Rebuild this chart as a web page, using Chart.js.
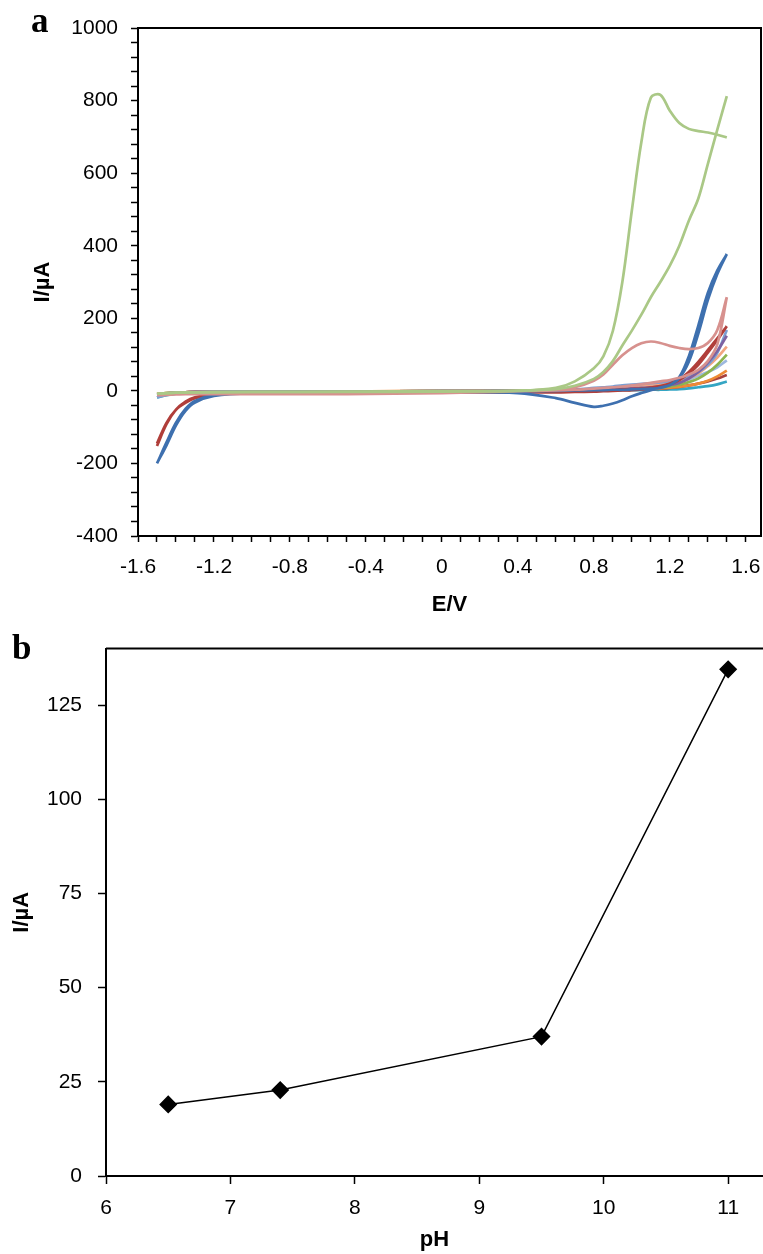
<!DOCTYPE html>
<html>
<head>
<meta charset="utf-8">
<script src="https://cdn.jsdelivr.net/npm/chart.js@4/dist/chart.umd.min.js"></script>
<style>
  body { margin: 0; background: #fff; }
  .panel { position: absolute; left: 0; }
</style>
</head>
<body>
<div class="panel" style="top:0"><canvas id="cvChart" width="763" height="620"></canvas></div>
<div class="panel" style="top:620px"><canvas id="phChart" width="763" height="634"></canvas></div>
<script>
// potential grids (V), forward sweep and reverse sweep
const potFwd = [-1.5, -1.45, -1.4, -1.35, -1.3, -1.2, -1.0, -0.5, 0, 0.4, 0.6, 0.7, 0.8, 0.85, 0.9, 0.95, 1.0, 1.05, 1.1, 1.15, 1.2, 1.25, 1.3, 1.35, 1.4, 1.45, 1.5];
const potRev = [1.5, 1.45, 1.4, 1.35, 1.3, 1.25, 1.2, 1.15, 1.1, 1.05, 1.0, 0.95, 0.9, 0.85, 0.8, 0.7, 0.6, 0.4, 0, -0.5, -1.0, -1.2, -1.3, -1.35, -1.4, -1.45, -1.5];

// currents (uA)
const greenFwd = [-8, -6, -5, -5, -4, -4, -3, -3, -2, 0, 8, 26, 62, 95, 165, 300, 497, 685, 808, 816, 772, 738, 722, 716, 712, 706, 698];
const greenRev = [812, 720, 625, 530, 469, 400, 345, 300, 258, 210, 166, 125, 82, 52, 33, 14, 5, 1, -1, -2, -3, -3, -4, -4, -5, -6, -8];
const pinkFwd = [-12, -10, -9, -9, -9, -9, -9, -8, -5, 0, 4, 10, 28, 45, 72, 98, 118, 131, 136, 132, 124, 118, 115, 118, 132, 168, 258];
const pinkRev = [258, 128, 82, 58, 45, 36, 30, 26, 22, 18, 15, 12, 10, 8, 6, 3, 1, -1, -6, -9, -9, -9, -9, -9, -10, -11, -12];
const blueFwd = [-200, -142, -88, -50, -28, -12, -6, -4, -2, -1, 0, 1, 2, 2, 3, 3, 4, 5, 6, 8, 16, 38, 95, 180, 270, 332, 377];
const blueRev = [377, 322, 250, 158, 80, 35, 16, 9, 2, -6, -15, -26, -35, -41, -44, -33, -20, -6, -4, -4, -6, -14, -32, -55, -95, -150, -200];
const redFwd = [-152, -92, -52, -30, -18, -9, -5, -4, -2, -1, 0, 0, 1, 2, 3, 4, 5, 6, 9, 13, 20, 32, 52, 80, 112, 145, 178];
const redRev = [178, 140, 105, 72, 48, 30, 18, 11, 7, 4, 2, 1, 0, -1, -2, -3, -4, -4, -4, -5, -6, -10, -20, -33, -52, -88, -145];
const purpleFwd = [-10, -7, -5, -4, -3, -3, -2, -2, -1, 0, 1, 2, 3, 4, 5, 6, 7, 8, 10, 12, 16, 22, 34, 52, 78, 110, 152];
const ltBlueFwd = [-18, -11, -7, -5, -4, -3, -2, -2, -1, 0, 2, 4, 8, 10, 12, 15, 17, 19, 21, 23, 27, 32, 40, 52, 72, 105, 168];
const salmonFwd = [-8, -6, -5, -4, -3, -3, -2, -2, -1, 0, 1, 2, 4, 5, 7, 9, 11, 13, 15, 17, 20, 26, 35, 48, 68, 92, 122];
const oliveFwd = [-9, -6, -5, -4, -3, -3, -2, -2, -1, 0, 1, 1, 2, 3, 3, 4, 5, 6, 7, 9, 12, 17, 24, 34, 50, 72, 100];
const paleBlueFwd = [-12, -8, -6, -4, -3, -3, -2, -2, -1, 0, 1, 2, 4, 6, 8, 10, 12, 14, 16, 18, 21, 26, 32, 42, 52, 65, 84];
const orangeFwd = [-8, -6, -5, -4, -3, -3, -2, -2, 1, 1, 0, 0, 1, 2, 2, 3, 4, 5, 6, 7, 9, 11, 15, 20, 28, 40, 56];
const darkRedFwd = [-10, -7, -5, -4, -3, -3, -3, -2, -1, 0, 0, 1, 1, 2, 2, 3, 3, 4, 5, 6, 8, 11, 15, 20, 26, 34, 44];
const tealFwd = [-18, -12, -8, -6, -4, -3, -2, -2, -1, 0, 0, 0, 1, 1, 1, 2, 2, 2, 3, 3, 4, 5, 7, 10, 13, 18, 26];

// panel b
const pHValues = [6.5, 7.4, 9.5, 11];
const peakCurrent = [19, 22.8, 37, 134.5];

const cvSeries = [
  { color: '#AAC886', fwd: greenFwd, rev: null },
  { color: '#AAC886', fwd: null, rev: greenRev },
  { color: '#D7918E', fwd: pinkFwd, rev: pinkRev },
  { color: '#3E70AF', fwd: blueFwd, rev: blueRev },
  { color: '#B03E3A', fwd: redFwd, rev: redRev },
  { color: '#7E62A1', fwd: purpleFwd, rev: null },
  { color: '#7B9ED2', fwd: ltBlueFwd, rev: null },
  { color: '#F2A580', fwd: salmonFwd, rev: null },
  { color: '#8DB450', fwd: oliveFwd, rev: null },
  { color: '#9DB8DE', fwd: paleBlueFwd, rev: null },
  { color: '#EE8A35', fwd: orangeFwd, rev: null },
  { color: '#A8403D', fwd: darkRedFwd, rev: null },
  { color: '#34A5C3', fwd: tealFwd, rev: null }
];

function sweep(fwd, rev) {
  const pts = [];
  if (fwd) fwd.forEach((v, i) => pts.push({ x: potFwd[i], y: v }));
  if (rev) rev.forEach((v, i) => pts.push({ x: potRev[i], y: v }));
  return pts;
}

const tickFont = { family: '"Liberation Sans", Arial, sans-serif', size: 21 };
const titleFont = { family: '"Liberation Sans", Arial, sans-serif', size: 22, weight: 'bold' };

// box lines and the panel letter
const framePlugin = {
  id: 'frame',
  afterDraw(chart, args, opts) {
    const { ctx, chartArea: a } = chart;
    ctx.save();
    ctx.strokeStyle = '#000';
    ctx.lineWidth = 2;
    ctx.beginPath();
    ctx.moveTo(a.left, a.top);
    ctx.lineTo(a.right, a.top);
    if (opts.right) ctx.lineTo(a.right, a.bottom);
    ctx.stroke();
    ctx.fillStyle = '#000';
    ctx.font = 'bold 35px "Liberation Serif", "Times New Roman", serif';
    ctx.fillText(opts.letter, opts.lx, opts.ly);
    ctx.restore();
  }
};

new Chart(document.getElementById('cvChart'), {
  type: 'scatter',
  data: {
    datasets: cvSeries.map(s => ({
      data: sweep(s.fwd, s.rev),
      showLine: true,
      borderColor: s.color,
      borderWidth: 2.7,
      pointRadius: 0,
      tension: 0.35,
      fill: false
    }))
  },
  options: {
    responsive: false,
    animation: false,
    devicePixelRatio: 1,
    layout: { autoPadding: false, padding: { top: 28, right: 2, left: 0, bottom: 0 } },
    plugins: {
      legend: { display: false },
      tooltip: { enabled: false },
      frame: { right: true, letter: 'a', lx: 31, ly: 32 }
    },
    scales: {
      x: {
        type: 'linear',
        min: -1.6,
        max: 1.68,
        afterFit(s) { s.height = 84; s.paddingLeft = 0; s.paddingRight = 0; },
        ticks: {
          stepSize: 0.1,
          includeBounds: false,
          autoSkip: false,
          maxRotation: 0,
          padding: 13,
          color: '#000',
          font: tickFont,
          callback: v => (Math.round(v * 10) % 4 === 0 ? String(Math.round(v * 10) / 10) : '')
        },
        grid: { drawOnChartArea: false, tickLength: 6, color: '#000', tickWidth: 1.5 },
        border: { color: '#000', width: 2 },
        title: { display: true, text: 'E/V', color: '#000', font: titleFont, padding: { top: 0, bottom: 2 } }
      },
      y: {
        min: -400,
        max: 1000,
        afterFit(s) { s.width = 138; },
        ticks: {
          stepSize: 40,
          includeBounds: false,
          autoSkip: false,
          padding: 13,
          color: '#000',
          font: tickFont,
          callback: v => (v % 200 === 0 ? String(v) : '')
        },
        grid: { drawOnChartArea: false, tickLength: 7, color: '#000', tickWidth: 1.5 },
        border: { color: '#000', width: 2 },
        title: { display: true, text: 'I/µA', color: '#000', font: titleFont, padding: { top: 30, bottom: 0 } }
      }
    }
  },
  plugins: [framePlugin]
});

new Chart(document.getElementById('phChart'), {
  type: 'scatter',
  data: {
    datasets: [{
      data: pHValues.map((p, i) => ({ x: p, y: peakCurrent[i] })),
      showLine: true,
      borderColor: '#000',
      borderWidth: 1.5,
      pointStyle: 'rectRot',
      pointRadius: 8,
      pointBackgroundColor: '#000',
      pointBorderColor: '#000',
      tension: 0
    }]
  },
  options: {
    responsive: false,
    animation: false,
    devicePixelRatio: 1,
    layout: { autoPadding: false, padding: { top: 14, right: 0, left: 0, bottom: 0 } },
    plugins: {
      legend: { display: false },
      tooltip: { enabled: false },
      frame: { right: false, letter: 'b', lx: 12, ly: 39 }
    },
    scales: {
      x: {
        type: 'linear',
        min: 6,
        max: 11.28,
        afterFit(s) { s.height = 78; s.paddingLeft = 0; s.paddingRight = 0; },
        ticks: { stepSize: 1, includeBounds: false, autoSkip: false, maxRotation: 0, padding: 12, color: '#000', font: tickFont },
        grid: { drawOnChartArea: false, tickLength: 8, color: '#000', tickWidth: 1.5 },
        border: { color: '#000', width: 2 },
        title: { display: true, text: 'pH', color: '#000', font: titleFont, padding: { top: 0, bottom: 1 } }
      },
      y: {
        min: 0,
        max: 140,
        afterFit(s) { s.width = 106; },
        ticks: { stepSize: 25, includeBounds: false, padding: 16, color: '#000', font: tickFont },
        grid: { drawOnChartArea: false, tickLength: 8, color: '#000', tickWidth: 1.5 },
        border: { color: '#000', width: 2 },
        title: { display: true, text: 'I/µA', color: '#000', font: titleFont, padding: { top: 9, bottom: 0 } }
      }
    }
  },
  plugins: [framePlugin]
});
</script>
</body>
</html>
